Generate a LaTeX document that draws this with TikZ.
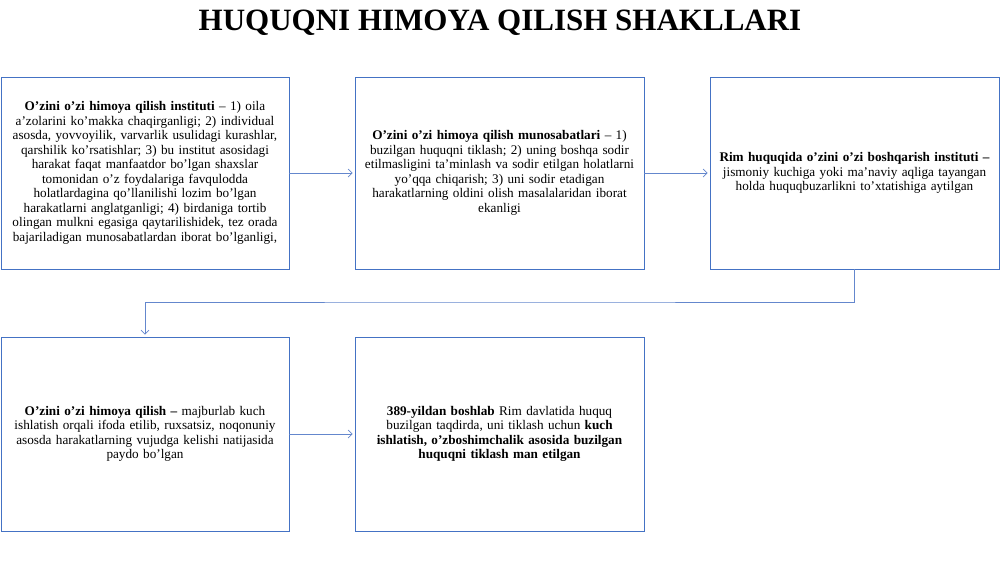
\documentclass[tikz,border=0pt]{standalone}
\usepackage{fontspec}
\setmainfont{Liberation Serif}
\usetikzlibrary{arrows.meta}
\definecolor{boxblue}{RGB}{68,114,196}
\definecolor{arrblue}{RGB}{100,135,205}
\tikzset{
  box/.style={draw=boxblue, line width=0.8pt, fill=white, inner sep=0pt,
    text width=#1, minimum height=192pt, align=center,
    font=\fontsize{13.2}{14.5}\selectfont},
  box/.default=288pt,
  conn/.style={draw=arrblue, line width=0.7pt, -{Straight Barb[length=4pt,width=8pt]}, shorten >=2pt},
  titletext/.style={font=\fontsize{31}{35}\selectfont\bfseries, inner sep=0pt}
}
\begin{document}
\begin{tikzpicture}[x=1pt,y=-1pt]
\useasboundingbox (0,0) rectangle (1000,562);
\node[titletext] (title) at (500,23) {HUQUQNI HIMOYA QILISH SHAKLLARI};

\node[box] (b1) at (145,173) {\textbf{O’zini o’zi himoya qilish instituti} – 1) oila\\
a’zolarini ko’makka chaqirganligi; 2) individual\\
asosda, yovvoyilik, varvarlik usulidagi kurashlar,\\
qarshilik ko’rsatishlar; 3) bu institut asosidagi\\
harakat faqat manfaatdor bo’lgan shaxslar\\
tomonidan o’z foydalariga favqulodda\\
holatlardagina qo’llanilishi lozim bo’lgan\\
harakatlarni anglatganligi; 4) birdaniga tortib\\
olingan mulkni egasiga qaytarilishidek, tez orada\\
bajariladigan munosabatlardan iborat bo’lganligi,};

\node[box=289pt] (b2) at (499.5,173) {\textbf{O’zini o’zi himoya qilish munosabatlari} – 1)\\
buzilgan huquqni tiklash; 2) uning boshqa sodir\\
etilmasligini ta’minlash va sodir etilgan holatlarni\\
yo’qqa chiqarish; 3) uni sodir etadigan\\
harakatlarning oldini olish masalalaridan iborat\\
ekanligi};

\node[box=289pt] (b3) at (854.5,173) {\textbf{Rim huquqida o’zini o’zi boshqarish instituti –}\\
jismoniy kuchiga yoki ma’naviy aqliga tayangan\\
holda huquqbuzarlikni to’xtatishiga aytilgan};

\node[box, minimum height=194pt] (b4) at (145,434) {\textbf{O’zini o’zi himoya qilish –} majburlab kuch\\
ishlatish orqali ifoda etilib, ruxsatsiz, noqonuniy\\
asosda harakatlarning vujudga kelishi natijasida\\
paydo bo’lgan};

\node[box=289pt, minimum height=194pt] (b5) at (499.5,434) {\textbf{389-yildan boshlab} Rim davlatida huquq\\
buzilgan taqdirda, uni tiklash uchun \textbf{kuch}\\
\textbf{ishlatish, o’zboshimchalik asosida buzilgan}\\
\textbf{huquqni tiklash man etilgan}};

\coordinate (turn) at (500,302);
\draw[conn] (b1) -- (b2);
\draw[conn] (b2) -- (b3);
\draw[conn] (b3.south) |- (turn) -| (b4.north);
\draw[conn] (b4) -- (b5);
\end{tikzpicture}
\end{document}
